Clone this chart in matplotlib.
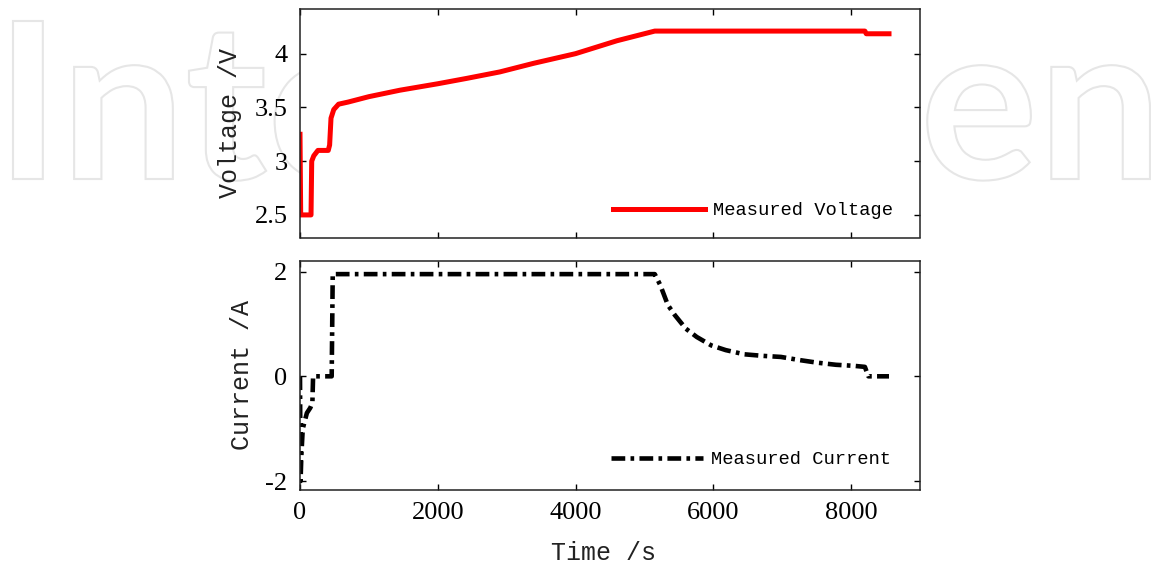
import matplotlib
matplotlib.use("Agg")
import matplotlib.pyplot as plt
from matplotlib.font_manager import FontProperties
from matplotlib.textpath import TextPath
from matplotlib.patches import PathPatch
from matplotlib.transforms import Affine2D

# values
volt_time = [0, 10, 160, 170, 200, 260, 410, 430, 450, 490, 560, 700, 1000, 1450,
             2000, 2420, 2900, 3390, 4000, 4300, 4600, 5150, 8200, 8220, 8550]
volt_value = [3.25, 2.5, 2.5, 3.0, 3.05, 3.1, 3.1, 3.15, 3.4, 3.48, 3.53, 3.55, 3.6, 3.66,
              3.72, 3.77, 3.83, 3.91, 4.0, 4.06, 4.12, 4.21, 4.21, 4.185, 4.185]

curr_time = [0, 8, 20, 40, 70, 100, 150, 180, 190, 460, 475, 5150, 5230, 5340, 5440,
             5600, 5760, 5970, 6180, 6450, 6720, 6980, 7250, 7510, 7780, 8040, 8200,
             8250, 8550]
curr_value = [0, -2.0, -1.5, -1.0, -0.85, -0.7, -0.6, -0.5, 0.0, 0.0, 1.95, 1.95, 1.74,
              1.36, 1.17, 0.91, 0.75, 0.59, 0.50, 0.42, 0.39, 0.37, 0.31, 0.26, 0.22,
              0.20, 0.18, 0.0, 0.0]

volt_ticks = [2.5, 3, 3.5, 4]
curr_ticks = [-2, 0, 2]
time_ticks = [0, 2000, 4000, 6000, 8000]

W, H = 1151, 572
fig = plt.figure(figsize=(W / 100, H / 100), dpi=100)

# faint outlined watermark behind the axes
wm_font = FontProperties(family="Lato", weight="bold")
cap = TextPath((0, 0), "I", prop=wm_font).get_extents()
wm = TextPath((0, 0), "IntechOpen", prop=wm_font)
ext = wm.get_extents()
s = 158 / cap.height                      # cap height in pixels
wm_w = ext.width * s
sx = (1137 / wm_w) * s                    # stretch to span x 13..1150
tr = (Affine2D().translate(-ext.x0, 0).scale(sx, s)
      .translate(13, H - 179))
fig.patches.append(PathPatch(tr.transform_path(wm), transform=None,
                             facecolor="none", edgecolor="#e6e6e6", lw=1.5, zorder=-5))

ax1 = fig.add_axes([300 / W, 1 - 237.5 / H, 620 / W, 229 / H])
ax2 = fig.add_axes([300 / W, 1 - 489.5 / H, 620 / W, 229 / H])

tick_font = {"family": "Liberation Serif", "size": 19}
label_font = {"family": "Liberation Mono", "size": 18, "color": "#222222"}
leg_font = FontProperties(family="Liberation Mono", size=13.5)

ax1.plot(volt_time, volt_value, color="red", lw=3.6, label="Measured Voltage")
ax2.plot(curr_time, curr_value, color="black", lw=3.3,
         linestyle=(0, (3.0, 1.15, 0.8, 1.15)), dash_capstyle="butt",
         label="Measured Current")

ax1.set_xlim(0, 9000)
ax1.set_ylim(2.29, 4.42)
ax1.set_yticks(volt_ticks)
ax1.set_yticklabels(["2.5", "3", "3.5", "4"])
ax1.set_xticks(time_ticks)
ax1.set_xticklabels([])

ax2.set_xlim(0, 9000)
ax2.set_ylim(-2.16, 2.21)
ax2.set_yticks(curr_ticks)
ax2.set_yticklabels([str(v) for v in curr_ticks])
ax2.set_xticks(time_ticks)
ax2.set_xticklabels([str(v) for v in time_ticks])

for ax in (ax1, ax2):
    ax.tick_params(direction="in", top=True, right=True, length=4, width=1, pad=9)
    for lab in ax.get_xticklabels() + ax.get_yticklabels():
        lab.set_fontfamily(tick_font["family"])
        lab.set_fontsize(tick_font["size"])
    for sp in ax.spines.values():
        sp.set_linewidth(1.1)
        sp.set_color("#222222")

ax1.legend(loc="lower right", bbox_to_anchor=(0.995, -0.027), frameon=False,
           prop=leg_font, handlelength=4.9, handletextpad=0.4, borderaxespad=0.9)
ax2.legend(loc="lower right", bbox_to_anchor=(0.992, -0.013), frameon=False,
           prop=leg_font, handlelength=4.9, handletextpad=0.4, borderaxespad=0.9)

ax1.set_ylabel("Voltage /V", fontdict=label_font)
ax1.yaxis.set_label_coords(-0.094, 0.5)
ax2.set_ylabel("Current /A", fontdict=label_font)
ax2.yaxis.set_label_coords(-0.074, 0.5)
ax2.set_xlabel("Time /s", fontdict=label_font)
ax2.xaxis.set_label_coords(0.49, -0.225)

fig.savefig("out.png", dpi=100)
